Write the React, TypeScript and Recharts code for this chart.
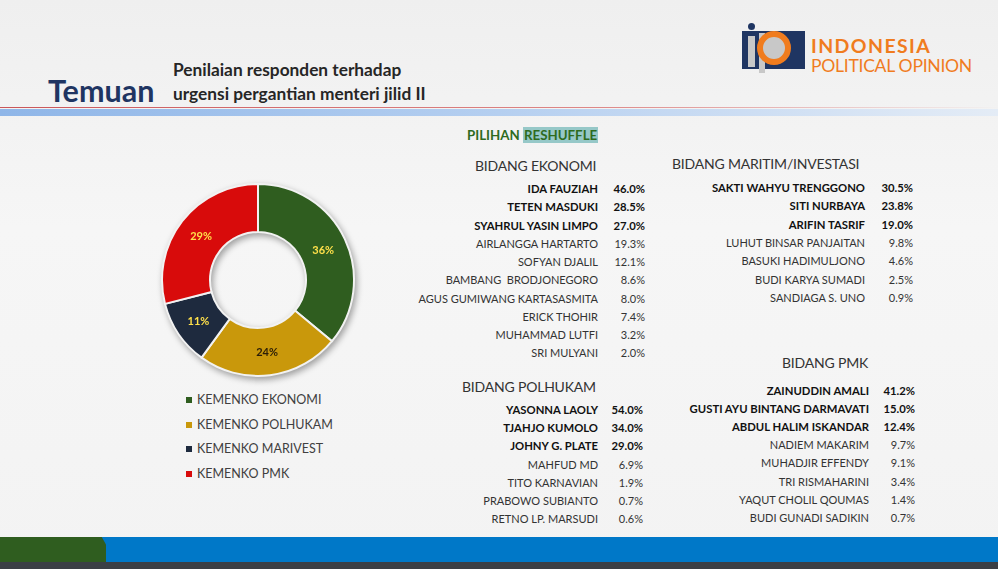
import React from "react";
import { Pie, PieChart, Cell } from "recharts";

const shareNames = ["KEMENKO EKONOMI", "KEMENKO POLHUKAM", "KEMENKO MARIVEST", "KEMENKO PMK"];
const shareValues = [36, 24, 11, 29];
const shareColors = ["#2F5D1F", "#C9980B", "#1E2A3E", "#D80B0B"];
const labelColors = ["#FFE04A", "#2A1D08", "#FFE04A", "#FFE04A"];

const ekonomiNames = ["IDA FAUZIAH", "TETEN MASDUKI", "SYAHRUL YASIN LIMPO", "AIRLANGGA HARTARTO", "SOFYAN DJALIL", "BAMBANG  BRODJONEGORO", "AGUS GUMIWANG KARTASASMITA", "ERICK THOHIR", "MUHAMMAD LUTFI", "SRI MULYANI"];
const ekonomiValues = ["46.0%", "28.5%", "27.0%", "19.3%", "12.1%", "8.6%", "8.0%", "7.4%", "3.2%", "2.0%"];

const maritimNames = ["SAKTI WAHYU TRENGGONO", "SITI NURBAYA", "ARIFIN TASRIF", "LUHUT BINSAR PANJAITAN", "BASUKI HADIMULJONO", "BUDI KARYA SUMADI", "SANDIAGA S. UNO"];
const maritimValues = ["30.5%", "23.8%", "19.0%", "9.8%", "4.6%", "2.5%", "0.9%"];

const polhukamNames = ["YASONNA LAOLY", "TJAHJO KUMOLO", "JOHNY G. PLATE", "MAHFUD MD", "TITO KARNAVIAN", "PRABOWO SUBIANTO", "RETNO LP. MARSUDI"];
const polhukamValues = ["54.0%", "34.0%", "29.0%", "6.9%", "1.9%", "0.7%", "0.6%"];

const pmkNames = ["ZAINUDDIN AMALI", "GUSTI AYU BINTANG DARMAVATI", "ABDUL HALIM ISKANDAR", "NADIEM MAKARIM", "MUHADJIR EFFENDY", "TRI RISMAHARINI", "YAQUT CHOLIL QOUMAS", "BUDI GUNADI SADIKIN"];
const pmkValues = ["41.2%", "15.0%", "12.4%", "9.7%", "9.1%", "3.4%", "1.4%", "0.7%"];

const FONT = "Lato, 'Open Sans', sans-serif";

const pieData = shareNames.map((name, i) => ({ name, value: shareValues[i] }));

const RAD = Math.PI / 180;
const renderLabel = (props: any) => {
  const { cx, cy, midAngle, innerRadius, outerRadius, value, index } = props;
  const r = (innerRadius + outerRadius) / 2;
  const x = cx + r * Math.cos(-midAngle * RAD);
  const y = cy + r * Math.sin(-midAngle * RAD);
  return (
    <text x={x} y={y} fill={labelColors[index]} textAnchor="middle" dominantBaseline="central" fontSize={11} fontWeight={700} fontFamily={FONT}>
      {value}%
    </text>
  );
};

type TableProps = {
  names: string[];
  values: string[];
  top: number;
  nameRight: number;
  valueRight: number;
  step: number;
};

const Table = ({ names, values, top, nameRight, valueRight, step }: TableProps) => (
  <>
    {names.map((n, i) => {
      const bold = i < 3;
      const st: React.CSSProperties = { position: "absolute", top: top + i * step, height: step, lineHeight: step + "px", textAlign: "right", fontSize: bold ? 11.3 : 11, fontWeight: bold ? 700 : 400, color: bold ? "#111" : "#333", whiteSpace: "pre" };
      return (
        <React.Fragment key={n}>
          <div style={{ ...st, left: nameRight - 260, width: 260 }}>{n}</div>
          <div style={{ ...st, left: valueRight - 60, width: 60 }}>{values[i]}</div>
        </React.Fragment>
      );
    })}
  </>
);

const header = (text: string, left: number, cy: number) => (
  <div style={{ position: "absolute", left, top: cy - 10, lineHeight: "20px", fontSize: 14, fontWeight: 400, color: "#333", whiteSpace: "nowrap", letterSpacing: -0.2 }}>{text}</div>
);

export default function App() {
  return (
    <div style={{ position: "fixed", left: 0, top: 0, width: 998, height: 569, overflow: "hidden", fontFamily: FONT, background: "linear-gradient(180deg, #EFEFEF 0%, #F6F6F6 40%, #F3F3F3 100%)" }}>
      {/* header */}
      <div style={{ position: "absolute", left: 48, top: 73, fontSize: 30.5, fontWeight: 700, color: "#1F3562", lineHeight: "34px" }}>Temuan</div>
      <div style={{ position: "absolute", left: 173, top: 58, fontSize: 17.3, fontWeight: 700, color: "#262626", lineHeight: "24px" }}>
        Penilaian responden terhadap<br />urgensi pergantian menteri jilid II
      </div>
      <div style={{ position: "absolute", left: 0, top: 107, width: 998, height: 1, background: "linear-gradient(90deg, #C9565A 0%, #D88 60%, rgba(220,200,200,0) 100%)" }} />
      <div style={{ position: "absolute", left: 0, top: 109, width: 998, height: 7, background: "linear-gradient(90deg, #8FB6E8 0%, #B5CFF0 50%, #E4ECF6 100%)" }} />

      {/* logo */}
      <div style={{ position: "absolute", left: 742, top: 31, width: 63, height: 38, background: "#1F3562" }} />
      <div style={{ position: "absolute", left: 748, top: 23, width: 7, height: 7, borderRadius: 4, background: "#1F3562" }} />
      <div style={{ position: "absolute", left: 748, top: 36, width: 7, height: 31, background: "#C8C8C8" }} />
      <div style={{ position: "absolute", left: 759, top: 33, width: 6, height: 40, background: "#C8C8C8" }} />
      <div style={{ position: "absolute", left: 757, top: 31, width: 34, height: 34, borderRadius: 17, border: "6px solid #F07C1E", background: "#C8C8C8", boxSizing: "border-box" }} />
      <div style={{ position: "absolute", left: 811, top: 34, height: 24, fontSize: 19.5, fontWeight: 700, lineHeight: "24px", letterSpacing: 1.4, color: "#F07C1E", whiteSpace: "nowrap" }}>INDONESIA</div>
      <div style={{ position: "absolute", left: 811, top: 57, height: 17, fontSize: 17.6, fontWeight: 400, lineHeight: "17px", letterSpacing: -0.3, color: "#F07C1E", whiteSpace: "nowrap" }}>POLITICAL OPINION</div>

      {/* donut */}
      <div style={{ position: "absolute", left: 138, top: 160, filter: "drop-shadow(2px 3px 3px rgba(0,0,0,0.35))" }}>
        <PieChart width={240} height={240} margin={{ top: 0, right: 0, bottom: 0, left: 0 }}>
          <Pie
            data={pieData}
            dataKey="value"
            nameKey="name"
            cx={120}
            cy={120}
            innerRadius={48}
            outerRadius={96}
            startAngle={90}
            endAngle={-270}
            stroke="#F2F2F2"
            strokeWidth={2}
            label={renderLabel}
            labelLine={false}
            isAnimationActive={false}
          >
            {pieData.map((d, i) => (
              <Cell key={d.name} fill={shareColors[i]} />
            ))}
          </Pie>
        </PieChart>
      </div>

      {/* legend */}
      {shareNames.map((n, i) => (
        <div key={n} style={{ position: "absolute", left: 186, top: 391 + i * 24.7, height: 18, lineHeight: "18px", fontSize: 12.5, color: "#404040", whiteSpace: "nowrap" }}>
          <span style={{ display: "inline-block", width: 6, height: 6, background: shareColors[i], marginRight: 5, verticalAlign: "middle", position: "relative", top: -1 }} />
          {n}
        </div>
      ))}

      {/* tables */}
      <div style={{ position: "absolute", left: 467, top: 125, fontSize: 13.3, fontWeight: 700, color: "#2E6B1E", lineHeight: "20px", whiteSpace: "nowrap" }}>
        PILIHAN <span style={{ background: "#96C8C8", padding: "0 1px" }}>RESHUFFLE</span>
      </div>
      {header("BIDANG EKONOMI", 475, 166)}
      <Table names={ekonomiNames} values={ekonomiValues} top={180} nameRight={598} valueRight={645} step={18.25} />

      {header("BIDANG MARITIM/INVESTASI", 672, 164)}
      <Table names={maritimNames} values={maritimValues} top={179} nameRight={865} valueRight={913} step={18.3} />

      {header("BIDANG POLHUKAM", 462, 387)}
      <Table names={polhukamNames} values={polhukamValues} top={401} nameRight={598} valueRight={643} step={18.2} />

      {header("BIDANG PMK", 782, 363)}
      <Table names={pmkNames} values={pmkValues} top={382} nameRight={869} valueRight={915} step={18.1} />

      {/* footer band */}
      <div style={{ position: "absolute", left: 0, top: 537, width: 998, height: 25, background: "#0078C8" }} />
      <div style={{ position: "absolute", left: 0, top: 537, width: 106, height: 25, background: "#2F5D1F", clipPath: "polygon(0 0, 96% 0, 100% 30%, 100% 100%, 0 100%)" }} />
      <div style={{ position: "absolute", left: 0, top: 562, width: 998, height: 7, background: "#3B3F45" }} />
    </div>
  );
}
